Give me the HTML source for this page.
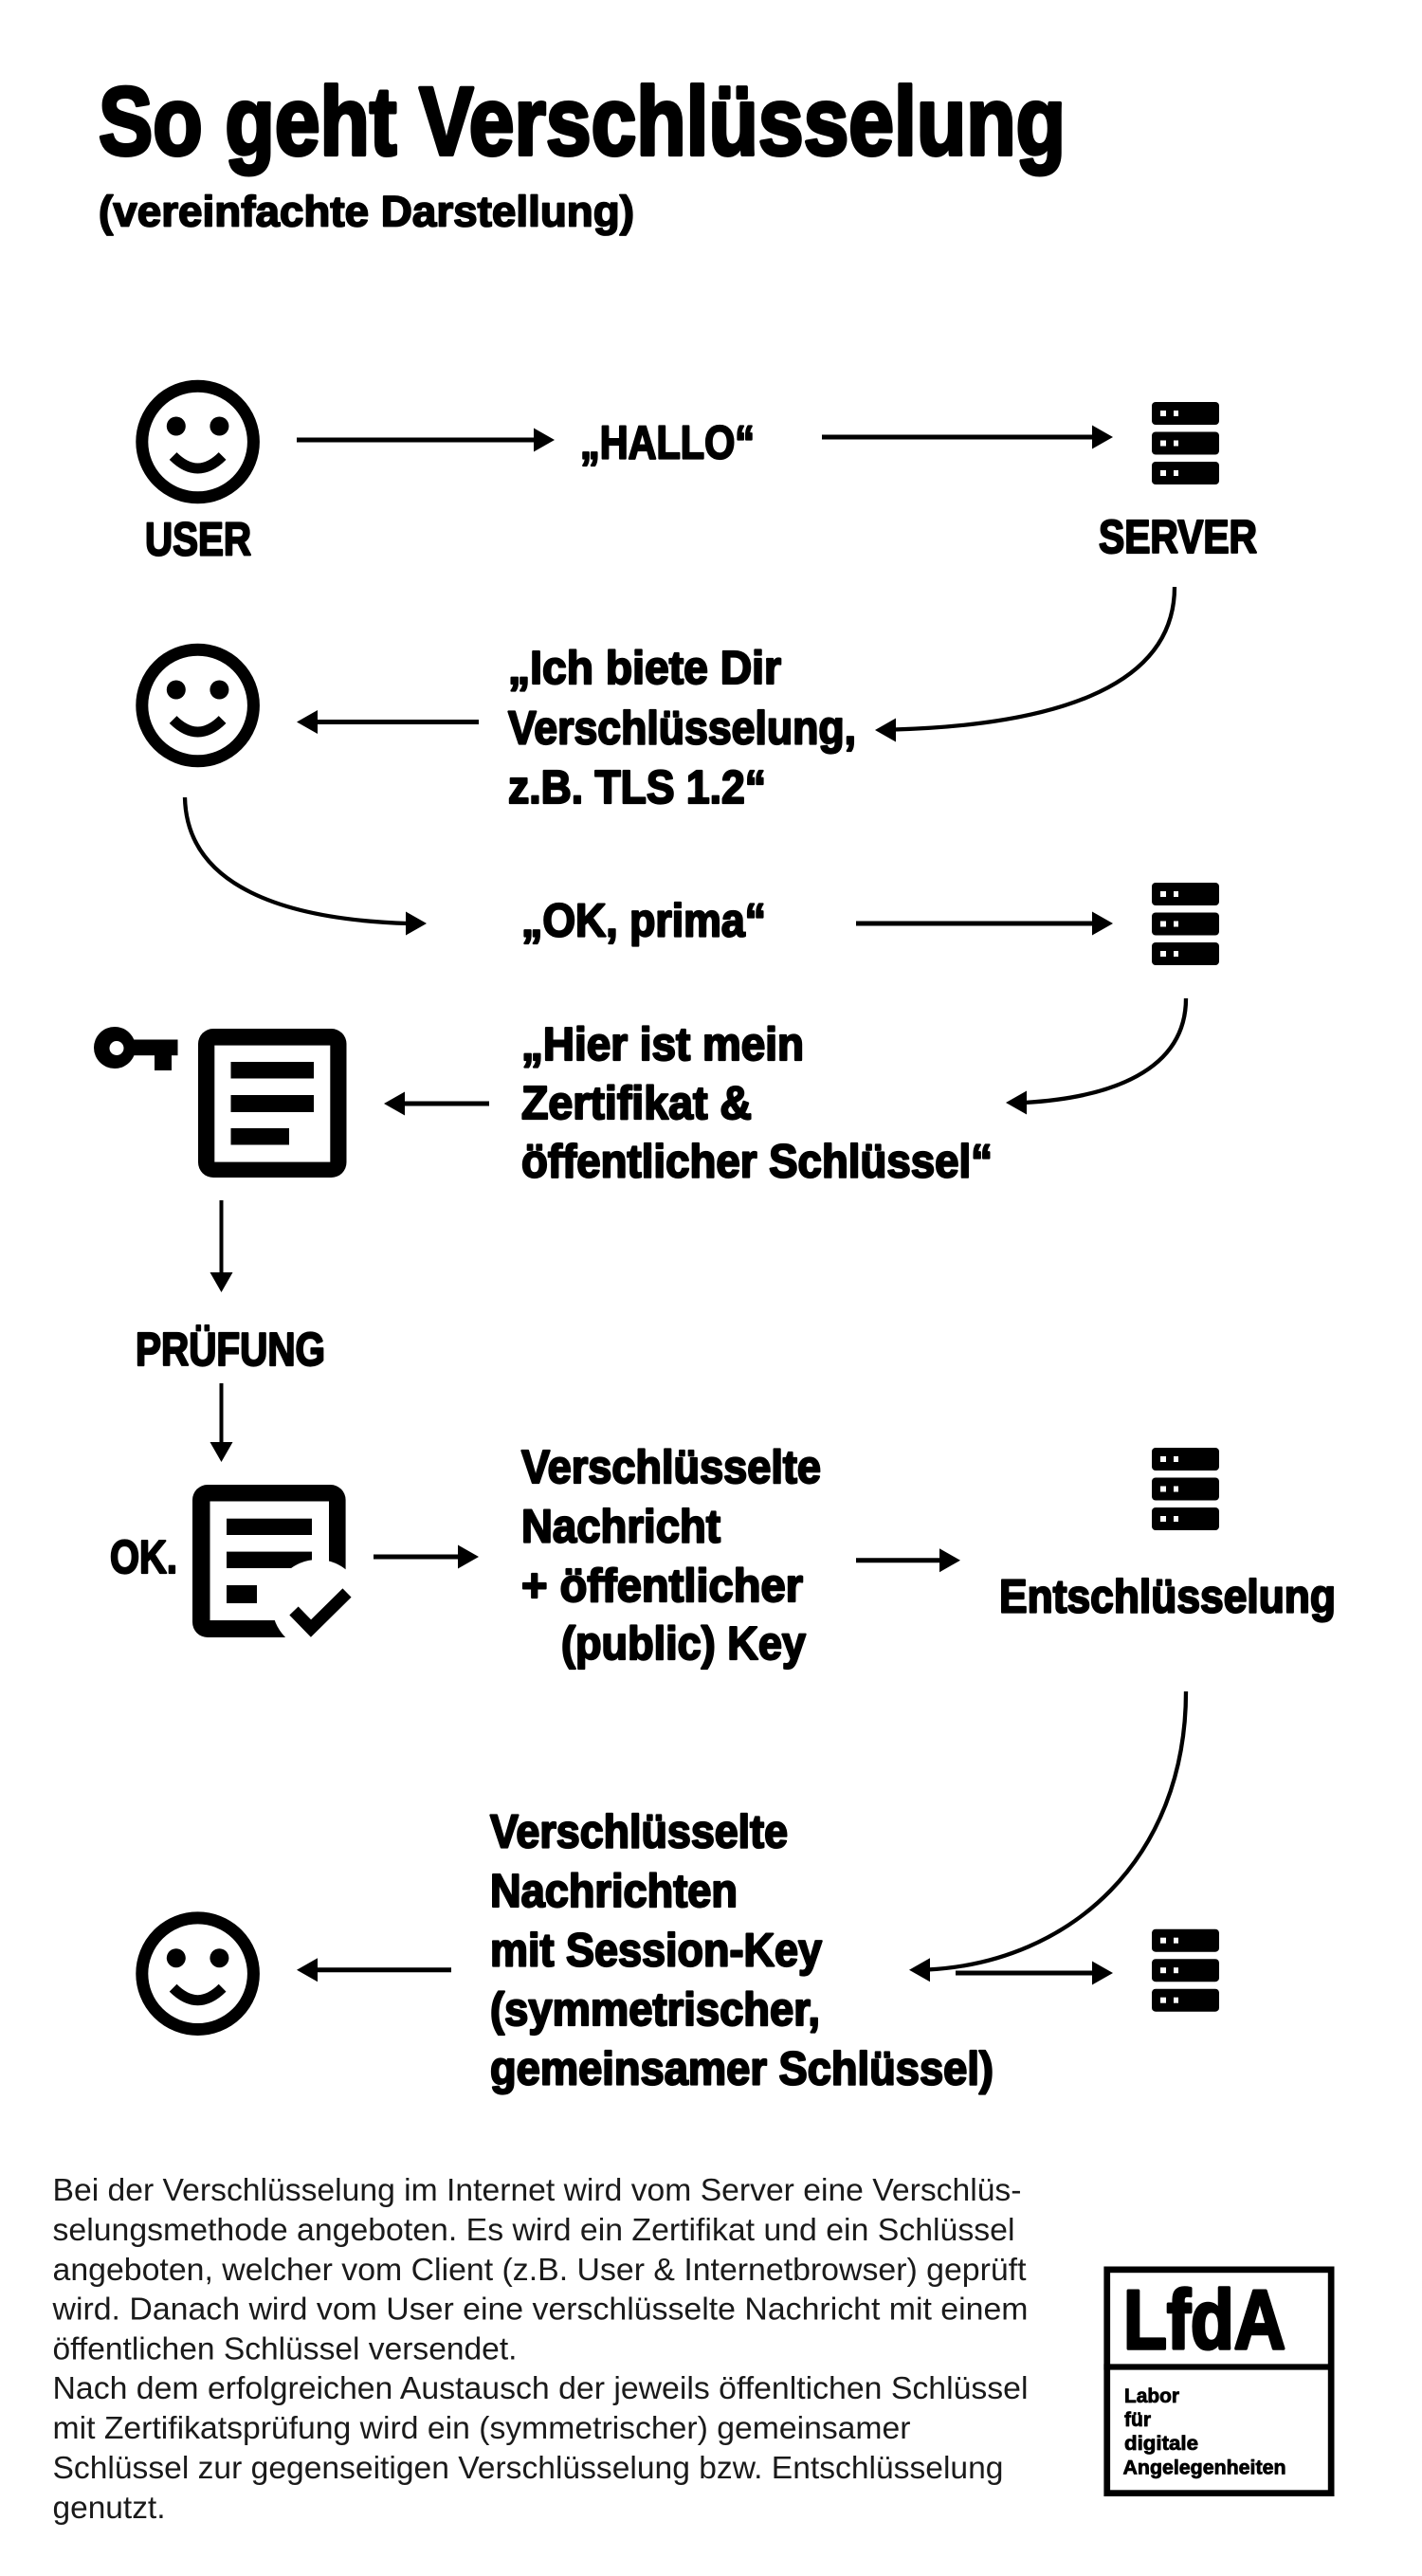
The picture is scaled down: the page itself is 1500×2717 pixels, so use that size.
<!DOCTYPE html>
<html lang="de">
<head>
<meta charset="utf-8">
<title>So geht Verschlüsselung</title>
<style>
  html, body { margin: 0; padding: 0; background: #fff; }
  svg { display: block; }
  .b { font-family: "Liberation Sans", Arial, sans-serif; font-weight: bold; fill: #000; stroke: #000; stroke-linejoin: round; }
  .l { font-family: "Liberation Sans", Arial, sans-serif; font-weight: normal; fill: #1a1a1a; }
</style>
</head>
<body>
<svg width="1500" height="2717" viewBox="0 0 1500 2717" xmlns="http://www.w3.org/2000/svg">
  <rect x="0" y="0" width="1500" height="2717" fill="#fff"/>

  <!-- Title -->
  <text class="b" x="104" y="163" font-size="102" stroke-width="4" textLength="1020" lengthAdjust="spacingAndGlyphs">So geht Verschlüsselung</text>
  <text class="b" x="104" y="238.5" font-size="45" stroke-width="1.8" textLength="565" lengthAdjust="spacingAndGlyphs">(vereinfachte Darstellung)</text>

  <defs>
    <g id="smiley">
      <circle cx="0" cy="0" r="58.8" fill="none" stroke="#000" stroke-width="13"/>
      <circle cx="-22.8" cy="-16.5" r="10" fill="#000"/>
      <circle cx="22.8" cy="-16.5" r="10" fill="#000"/>
      <path d="M-26,15 Q0,41 26,15" fill="none" stroke="#000" stroke-width="11"/>
    </g>
    <g id="server">
      <rect x="0" y="0" width="71" height="24" rx="4" fill="#000"/>
      <rect x="0" y="31.5" width="71" height="24" rx="4" fill="#000"/>
      <rect x="0" y="63" width="71" height="24" rx="4" fill="#000"/>
      <rect x="9" y="9" width="6" height="6" fill="#fff"/>
      <rect x="23" y="9" width="5" height="6" fill="#fff"/>
      <rect x="9" y="40.5" width="6" height="6" fill="#fff"/>
      <rect x="23" y="40.5" width="5" height="6" fill="#fff"/>
      <rect x="9" y="72" width="6" height="6" fill="#fff"/>
      <rect x="23" y="72" width="5" height="6" fill="#fff"/>
    </g>
  </defs>

  <!-- Row 1 -->
  <use href="#smiley" x="208.6" y="466"/>
  <text class="b" x="153" y="585.5" font-size="49" stroke-width="2.2" textLength="112" lengthAdjust="spacingAndGlyphs">USER</text>
  <line x1="313" y1="464" x2="566" y2="464" stroke="#000" stroke-width="5"/>
  <polygon points="585,464 563,451.5 563,476.5" fill="#000"/>
  <text class="b" x="612" y="483.5" font-size="49" stroke-width="2.2" textLength="184" lengthAdjust="spacingAndGlyphs">„HALLO“</text>
  <line x1="867" y1="461" x2="1155" y2="461" stroke="#000" stroke-width="5"/>
  <polygon points="1174,461 1152,448.5 1152,473.5" fill="#000"/>
  <use href="#server" x="1215" y="424"/>
  <text class="b" x="1159" y="583" font-size="49" stroke-width="2.2" textLength="167" lengthAdjust="spacingAndGlyphs">SERVER</text>

  <!-- Row 2 -->
  <path d="M1239,619 C1239,730 1100,765 943,769.5" fill="none" stroke="#000" stroke-width="4.3"/>
  <polygon points="923,770 945,757.5 945,782.5" fill="#000"/>
  <use href="#smiley" x="208.6" y="744"/>
  <line x1="505" y1="761.5" x2="332" y2="761.5" stroke="#000" stroke-width="5"/>
  <polygon points="313,761.5 335,749 335,774" fill="#000"/>
  <text class="b" x="536" y="721" font-size="49" stroke-width="2.2" textLength="288" lengthAdjust="spacingAndGlyphs">„Ich biete Dir</text>
  <text class="b" x="536" y="784.5" font-size="49" stroke-width="2.2" textLength="367" lengthAdjust="spacingAndGlyphs">Verschlüsselung,</text>
  <text class="b" x="536" y="847" font-size="49" stroke-width="2.2" textLength="272" lengthAdjust="spacingAndGlyphs">z.B. TLS 1.2“</text>

  <!-- Row 3 -->
  <path d="M195,841 C197,935 300,970 431,974" fill="none" stroke="#000" stroke-width="4.3"/>
  <polygon points="450,974 428,961.5 428,986.5" fill="#000"/>
  <text class="b" x="550" y="987.5" font-size="49" stroke-width="2.2" textLength="258" lengthAdjust="spacingAndGlyphs">„OK, prima“</text>
  <line x1="903" y1="974" x2="1155" y2="974" stroke="#000" stroke-width="5"/>
  <polygon points="1174,974 1152,961.5 1152,986.5" fill="#000"/>
  <use href="#server" x="1215" y="931"/>

  <!-- Row 4 -->
  <path d="M1251,1053 C1251,1130 1170,1158 1080,1163" fill="none" stroke="#000" stroke-width="4.3"/>
  <polygon points="1061,1163 1083,1150.5 1083,1175.5" fill="#000"/>
  <!-- key -->
  <circle cx="121" cy="1105" r="22" fill="#000"/>
  <circle cx="123" cy="1105.5" r="7.5" fill="#fff"/>
  <rect x="140" y="1096.5" width="47.5" height="16.7" fill="#000"/>
  <rect x="163" y="1110" width="18" height="19" fill="#000"/>
  <!-- document 1 -->
  <rect x="209" y="1085" width="156.5" height="157" rx="16" fill="#000"/>
  <rect x="226.3" y="1102.6" width="122" height="123" fill="#fff"/>
  <rect x="243.5" y="1120" width="87.5" height="17.5" fill="#000"/>
  <rect x="243.5" y="1155" width="87.5" height="18" fill="#000"/>
  <rect x="243.5" y="1190" width="61.5" height="17.5" fill="#000"/>
  <line x1="516" y1="1164" x2="424" y2="1164" stroke="#000" stroke-width="5"/>
  <polygon points="405,1164 427,1151.5 427,1176.5" fill="#000"/>
  <text class="b" x="550" y="1118" font-size="49" stroke-width="2.2" textLength="298" lengthAdjust="spacingAndGlyphs">„Hier ist mein</text>
  <text class="b" x="550" y="1180" font-size="49" stroke-width="2.2" textLength="243" lengthAdjust="spacingAndGlyphs">Zertifikat &amp;</text>
  <text class="b" x="550" y="1241.5" font-size="49" stroke-width="2.2" textLength="497" lengthAdjust="spacingAndGlyphs">öffentlicher Schlüssel“</text>

  <!-- Prüfung -->
  <line x1="233.5" y1="1266" x2="233.5" y2="1344" stroke="#000" stroke-width="4"/>
  <polygon points="233.5,1363 221.5,1342 245.5,1342" fill="#000"/>
  <text class="b" x="143" y="1440" font-size="49" stroke-width="2.2" textLength="200" lengthAdjust="spacingAndGlyphs">PRÜFUNG</text>
  <line x1="233.5" y1="1459" x2="233.5" y2="1523" stroke="#000" stroke-width="4"/>
  <polygon points="233.5,1542 221.5,1521 245.5,1521" fill="#000"/>

  <!-- OK doc -->
  <text class="b" x="116" y="1659" font-size="49" stroke-width="2.2" textLength="71" lengthAdjust="spacingAndGlyphs">OK.</text>
  <rect x="203" y="1566" width="161.6" height="161" rx="16" fill="#000"/>
  <rect x="221.5" y="1583.5" width="125.5" height="125.5" fill="#fff"/>
  <rect x="239" y="1601.7" width="90" height="17.3" fill="#000"/>
  <rect x="239" y="1636.6" width="90" height="17.4" fill="#000"/>
  <rect x="239" y="1672" width="32" height="19" fill="#000"/>
  <circle cx="335" cy="1693" r="48" fill="#fff"/>
  <polyline points="310,1699 328,1717.5 366,1680" fill="none" stroke="#000" stroke-width="13" stroke-linejoin="miter" stroke-miterlimit="4"/>
  <line x1="394" y1="1642" x2="486" y2="1642" stroke="#000" stroke-width="5"/>
  <polygon points="505,1642 483,1629.5 483,1654.5" fill="#000"/>
  <text class="b" x="550" y="1564" font-size="49" stroke-width="2.2" textLength="316" lengthAdjust="spacingAndGlyphs">Verschlüsselte</text>
  <text class="b" x="550" y="1626.5" font-size="49" stroke-width="2.2" textLength="210" lengthAdjust="spacingAndGlyphs">Nachricht</text>
  <text class="b" x="550" y="1689" font-size="49" stroke-width="2.2" textLength="297" lengthAdjust="spacingAndGlyphs">+ öffentlicher</text>
  <text class="b" x="592" y="1750" font-size="49" stroke-width="2.2" textLength="258" lengthAdjust="spacingAndGlyphs">(public) Key</text>
  <line x1="903" y1="1645.7" x2="994" y2="1645.7" stroke="#000" stroke-width="5"/>
  <polygon points="1013,1645.7 991,1633.2 991,1658.2" fill="#000"/>
  <use href="#server" x="1215" y="1527"/>
  <text class="b" x="1054" y="1700.7" font-size="49" stroke-width="2.2" textLength="355" lengthAdjust="spacingAndGlyphs">Entschlüsselung</text>

  <!-- Row final -->
  <path d="M1251,1784 C1251,1960 1130,2070 978,2077.5" fill="none" stroke="#000" stroke-width="4.3"/>
  <polygon points="959,2077.7 981,2065.2 981,2090.2" fill="#000"/>
  <use href="#smiley" x="208.6" y="2081.7"/>
  <line x1="476" y1="2077.7" x2="332" y2="2077.7" stroke="#000" stroke-width="5"/>
  <polygon points="313,2077.7 335,2065.2 335,2090.2" fill="#000"/>
  <text class="b" x="517" y="1948.6" font-size="49" stroke-width="2.2" textLength="314" lengthAdjust="spacingAndGlyphs">Verschlüsselte</text>
  <text class="b" x="517" y="2011" font-size="49" stroke-width="2.2" textLength="261" lengthAdjust="spacingAndGlyphs">Nachrichten</text>
  <text class="b" x="517" y="2073.5" font-size="49" stroke-width="2.2" textLength="350" lengthAdjust="spacingAndGlyphs">mit Session-Key</text>
  <text class="b" x="517" y="2136" font-size="49" stroke-width="2.2" textLength="348" lengthAdjust="spacingAndGlyphs">(symmetrischer,</text>
  <text class="b" x="517" y="2198.5" font-size="49" stroke-width="2.2" textLength="531" lengthAdjust="spacingAndGlyphs">gemeinsamer Schlüssel)</text>
  <line x1="1008" y1="2081" x2="1155" y2="2081" stroke="#000" stroke-width="5"/>
  <polygon points="1174,2081 1152,2068.5 1152,2093.5" fill="#000"/>
  <use href="#server" x="1215" y="2034.7"/>

  <!-- Paragraph -->
  <text class="l" x="55.5" y="2321" font-size="33" textLength="1022" lengthAdjust="spacingAndGlyphs">Bei der Verschlüsselung im Internet wird vom Server eine Verschlüs-</text>
  <text class="l" x="55.5" y="2363" font-size="33" textLength="1015" lengthAdjust="spacingAndGlyphs">selungsmethode angeboten. Es wird ein Zertifikat und ein Schlüssel</text>
  <text class="l" x="55.5" y="2405" font-size="33" textLength="1027" lengthAdjust="spacingAndGlyphs">angeboten, welcher vom Client (z.B. User &amp; Internetbrowser) geprüft</text>
  <text class="l" x="55.5" y="2446.5" font-size="33" textLength="1029" lengthAdjust="spacingAndGlyphs">wird. Danach wird vom User eine verschlüsselte Nachricht mit einem</text>
  <text class="l" x="55.5" y="2488.5" font-size="33" textLength="490" lengthAdjust="spacingAndGlyphs">öffentlichen Schlüssel versendet.</text>
  <text class="l" x="55.5" y="2530" font-size="33" textLength="1029" lengthAdjust="spacingAndGlyphs">Nach dem erfolgreichen Austausch der jeweils öffenltichen Schlüssel</text>
  <text class="l" x="55.5" y="2572" font-size="33" textLength="905" lengthAdjust="spacingAndGlyphs">mit Zertifikatsprüfung wird ein (symmetrischer) gemeinsamer</text>
  <text class="l" x="55.5" y="2614" font-size="33" textLength="1003" lengthAdjust="spacingAndGlyphs">Schlüssel zur gegenseitigen Verschlüsselung bzw. Entschlüsselung</text>
  <text class="l" x="55.5" y="2656" font-size="33" textLength="119" lengthAdjust="spacingAndGlyphs">genutzt.</text>

  <!-- Logo -->
  <rect x="1167.75" y="2393.85" width="236.4" height="235.8" fill="none" stroke="#000" stroke-width="6.7"/>
  <line x1="1164.4" y1="2496.5" x2="1407.5" y2="2496.5" stroke="#000" stroke-width="6.2"/>
  <text class="b" x="1185" y="2477" font-size="88" stroke-width="3.5" textLength="171" lengthAdjust="spacingAndGlyphs">LfdA</text>
  <text class="b" x="1186" y="2534" font-size="21" stroke-width="0.8" textLength="58" lengthAdjust="spacingAndGlyphs">Labor</text>
  <text class="b" x="1186" y="2559" font-size="21" stroke-width="0.8" textLength="28" lengthAdjust="spacingAndGlyphs">für</text>
  <text class="b" x="1186" y="2584" font-size="21" stroke-width="0.8" textLength="78" lengthAdjust="spacingAndGlyphs">digitale</text>
  <text class="b" x="1184.5" y="2609.6" font-size="21" stroke-width="0.8" textLength="172" lengthAdjust="spacingAndGlyphs">Angelegenheiten</text>
</svg>
</body>
</html>
